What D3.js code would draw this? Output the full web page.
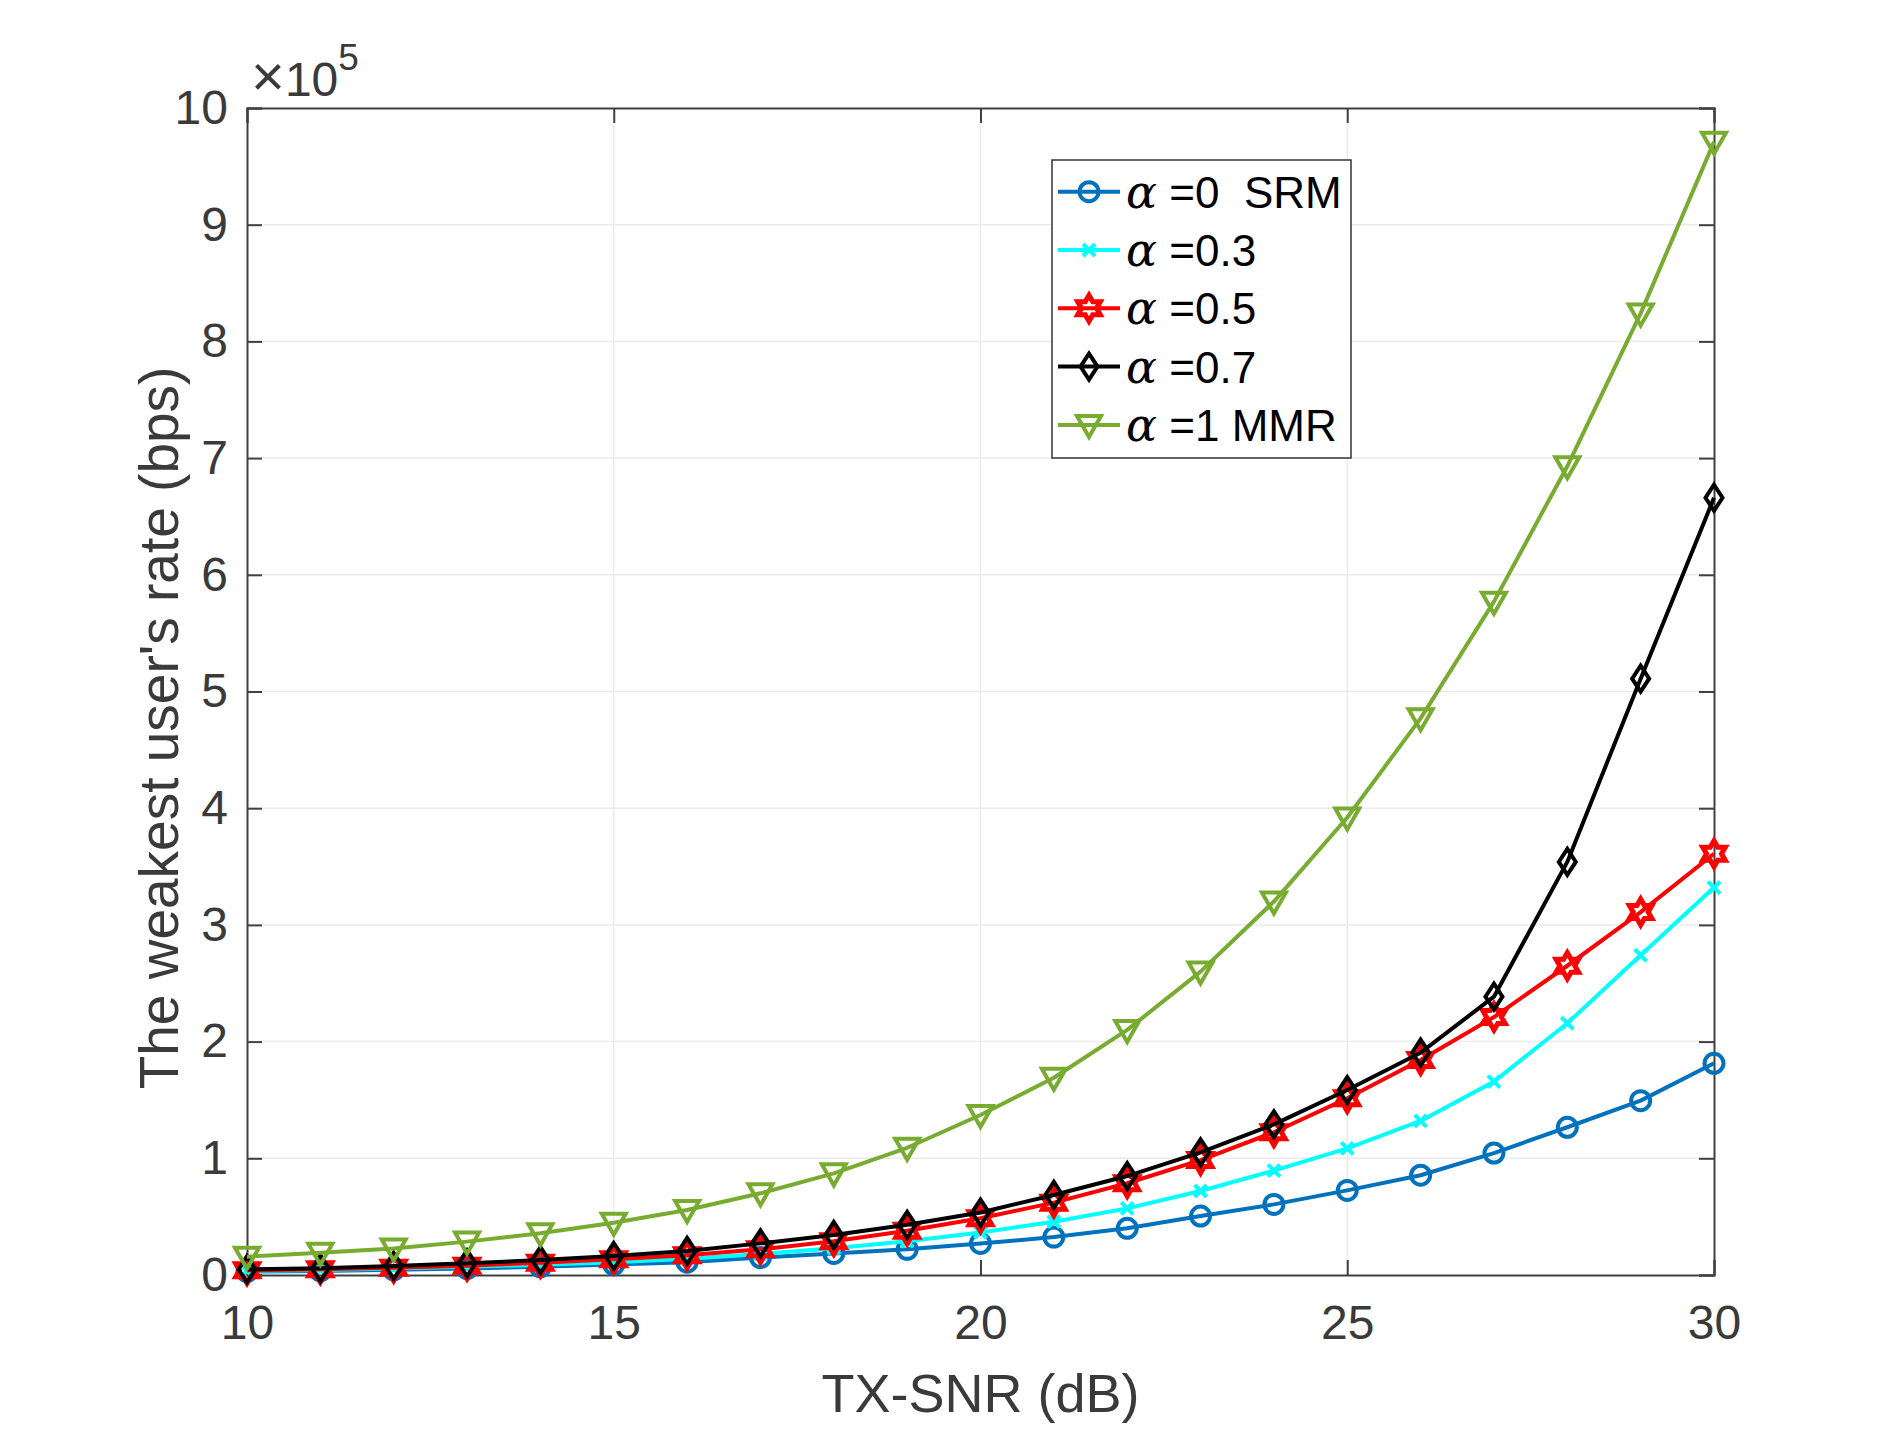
<!DOCTYPE html>
<html>
<head>
<meta charset="utf-8">
<script src="https://cdn.jsdelivr.net/npm/d3@7"></script>
<style>
	body { margin: 0; background: #ffffff; }
	svg { display: block; }
	text { font-family: 'Liberation Sans', Arial, Helvetica, sans-serif; }
</style>
</head>
<body>
<div id="chart"></div>
<script>
// TX-SNR (dB)
var snr = [10, 11, 12, 13, 14, 15, 16, 17, 18, 19, 20, 21, 22, 23, 24, 25, 26, 27, 28, 29, 30];

// weakest user's rate, in units of 1e5 bps
var rateA0 = [0.03, 0.035, 0.045, 0.055, 0.07, 0.09, 0.11, 0.15, 0.185, 0.22, 0.27, 0.325, 0.40, 0.505, 0.605, 0.725, 0.855, 1.045, 1.266, 1.494, 1.814];
var rateA03 = [0.035, 0.042, 0.055, 0.07, 0.088, 0.11, 0.14, 0.18, 0.23, 0.29, 0.365, 0.457, 0.571, 0.72, 0.894, 1.085, 1.32, 1.657, 2.157, 2.74, 3.32];
var rateA05 = [0.04, 0.05, 0.063, 0.08, 0.105, 0.135, 0.17, 0.22, 0.29, 0.38, 0.486, 0.62, 0.786, 0.985, 1.223, 1.514, 1.842, 2.21, 2.65, 3.11, 3.61];
var rateA07 = [0.048, 0.057, 0.077, 0.10, 0.128, 0.163, 0.206, 0.271, 0.343, 0.43, 0.535, 0.686, 0.848, 1.051, 1.291, 1.585, 1.905, 2.385, 3.54, 5.11, 6.66];
var rateA1 = [0.157, 0.191, 0.228, 0.286, 0.357, 0.448, 0.557, 0.70, 0.871, 1.09, 1.371, 1.69, 2.10, 2.60, 3.20, 3.92, 4.77, 5.77, 6.93, 8.24, 9.71];

var seriesNames = ['=0  SRM', '=0.3', '=0.5', '=0.7', '=1 MMR'];
var xTicks = [10, 15, 20, 25, 30];
var yTicks = [0, 1, 2, 3, 4, 5, 6, 7, 8, 9, 10];

var series = [
	{ name: seriesNames[0], values: rateA0, color: '#0072BD', marker: 'circle' },
	{ name: seriesNames[1], values: rateA03, color: '#00FFFF', marker: 'cross' },
	{ name: seriesNames[2], values: rateA05, color: '#FF0000', marker: 'hexagram' },
	{ name: seriesNames[3], values: rateA07, color: '#000000', marker: 'diamond' },
	{ name: seriesNames[4], values: rateA1, color: '#77AC30', marker: 'triangle' }
];

const WIDTH = 1894;
const HEIGHT = 1434;
const PLOT = { LEFT: 247, RIGHT: 1714, TOP: 108, BOTTOM: 1275 };
const TICK = 15;
const AXIS_COLOR = '#404040';
const LINE_W = 4;

var svg = d3.select('#chart').append('svg')
	.attr('width', WIDTH)
	.attr('height', HEIGHT);

svg.append('rect').attr('width', WIDTH).attr('height', HEIGHT).attr('fill', '#ffffff');

var x = d3.scaleLinear().domain([10, 30]).range([PLOT.LEFT, PLOT.RIGHT]);
var y = d3.scaleLinear().domain([0, 10]).range([PLOT.BOTTOM, PLOT.TOP]);

// grid
var grid = svg.append('g').attr('class', 'grid');
grid.selectAll('.gy').data(yTicks.slice(1, -1)).enter().append('line')
	.attr('x1', PLOT.LEFT).attr('x2', PLOT.RIGHT)
	.attr('y1', function (d) { return y(d); }).attr('y2', function (d) { return y(d); })
	.style('stroke', '#ebebeb').style('stroke-width', 1.5);
grid.selectAll('.gx').data(xTicks.slice(1, -1)).enter().append('line')
	.attr('y1', PLOT.TOP).attr('y2', PLOT.BOTTOM)
	.attr('x1', function (d) { return x(d); }).attr('x2', function (d) { return x(d); })
	.style('stroke', '#ebebeb').style('stroke-width', 1.5);

// axes (MATLAB style: ticks inside, box on)
var xAxis = d3.axisBottom(x).tickValues(xTicks).tickSize(-TICK).tickPadding(30);
var yAxis = d3.axisLeft(y).tickValues(yTicks).tickSize(-TICK).tickPadding(19);

svg.append('g')
	.attr('class', 'x axis')
	.attr('transform', 'translate(0,' + PLOT.BOTTOM + ')')
	.call(xAxis);
svg.append('g')
	.attr('class', 'y axis')
	.attr('transform', 'translate(' + PLOT.LEFT + ',0)')
	.call(yAxis);
svg.append('g')
	.attr('transform', 'translate(0,' + PLOT.TOP + ')')
	.call(d3.axisTop(x).tickValues(xTicks).tickSize(-TICK).tickFormat(''));
svg.append('g')
	.attr('transform', 'translate(' + PLOT.RIGHT + ',0)')
	.call(d3.axisRight(y).tickValues(yTicks).tickSize(-TICK).tickFormat(''));

svg.selectAll('.domain').style('stroke', AXIS_COLOR).style('stroke-width', 2);
svg.selectAll('.tick line').style('stroke', AXIS_COLOR).style('stroke-width', 2);
svg.selectAll('.tick text')
	.style('font-size', '48px')
	.attr('fill', '#3a3a3a');
svg.selectAll('.x.axis .tick text').attr('dy', '0.71em');

// axis labels
svg.append('text')
	.attr('x', (PLOT.LEFT + PLOT.RIGHT) / 2)
	.attr('y', 1412)
	.attr('text-anchor', 'middle')
	.attr('fill', '#3a3a3a')
	.style('font-size', '54px')
	.text('TX-SNR (dB)');
svg.append('text')
	.attr('transform', 'translate(178,728) rotate(-90)')
	.attr('text-anchor', 'middle')
	.attr('fill', '#3a3a3a')
	.style('font-size', '55px')
	.text("The weakest user's rate (bps)");

// exponent
var expo = svg.append('text').attr('x', 251).attr('y', 96).attr('fill', '#3a3a3a').style('font-size', '48px');
expo.append('tspan').style('font-size', '58px').text('\u00d7');
expo.append('tspan').text('10');
expo.append('tspan').attr('dy', -26).style('font-size', '37px').text('5');

// markers
function markerPath (type) {
	if (type === 'circle') {
		return d3.symbol().type(d3.symbolCircle).size(Math.PI * 9.5 * 9.5)();
	}
	if (type === 'cross') {
		return 'M-6,-6L6,6M-6,6L6,-6';
	}
	if (type === 'diamond') {
		return 'M0,-13L8.5,0L0,13L-8.5,0Z';
	}
	if (type === 'triangle') {
		return 'M-12,-9L12,-9L0,12Z';
	}
	var pts = [];
	for (var i = 0; i < 12; i++) {
		var r = i % 2 === 0 ? 13 : 13 / Math.sqrt(3);
		var a = -Math.PI / 2 + i * Math.PI / 6;
		pts.push([r * Math.cos(a), r * Math.sin(a)]);
	}
	return 'M' + pts.map(function (p) { return p[0].toFixed(2) + ',' + p[1].toFixed(2); }).join('L') + 'Z';
}

function markerWidth (type) {
	return type === 'hexagram' ? 5 : LINE_W;
}

var line = d3.line()
	.x(function (d, i) { return x(snr[i]); })
	.y(function (d) { return y(d); });

var plot = svg.append('g').attr('class', 'series');
series.forEach(function (s) {
	var g = plot.append('g');
	g.append('path')
		.datum(s.values)
		.attr('d', line)
		.attr('fill', 'none')
		.style('stroke', s.color)
		.style('stroke-width', LINE_W)
		.style('stroke-linejoin', 'round');
	g.selectAll('.mk').data(s.values).enter().append('path')
		.attr('transform', function (d, i) { return 'translate(' + x(snr[i]) + ',' + y(d) + ')'; })
		.attr('d', markerPath(s.marker))
		.attr('fill', 'none')
		.style('stroke', s.color)
		.style('stroke-width', markerWidth(s.marker));
});

// legend
const LEG = { X: 1052, Y: 160, W: 299, H: 298, ROW: 58.3, FIRST: 191.7 };
var legend = svg.append('g').attr('class', 'legend');
legend.append('rect')
	.attr('x', LEG.X).attr('y', LEG.Y).attr('width', LEG.W).attr('height', LEG.H)
	.attr('fill', '#ffffff')
	.style('stroke', '#333333').style('stroke-width', 1.5);

series.forEach(function (s, i) {
	var cy = LEG.FIRST + i * LEG.ROW;
	var row = legend.append('g');
	row.append('line')
		.attr('x1', 1058).attr('x2', 1120).attr('y1', cy).attr('y2', cy)
		.style('stroke', s.color).style('stroke-width', LINE_W);
	row.append('path')
		.attr('transform', 'translate(1089,' + cy + ')')
		.attr('d', markerPath(s.marker))
		.attr('fill', 'none')
		.style('stroke', s.color).style('stroke-width', markerWidth(s.marker));
	var t = row.append('text')
		.attr('x', 1126).attr('y', cy + 16)
		.attr('fill', '#000000')
		.style('font-size', '44px')
		.attr('xml:space', 'preserve');
	t.append('tspan')
		.style('font-family', "'DejaVu Serif', 'Liberation Serif', serif")
		.style('font-style', 'italic')
		.style('font-size', '46px')
		.text('\u03b1');
	t.append('tspan').text(' ' + s.name);
});
</script>
</body>
</html>
